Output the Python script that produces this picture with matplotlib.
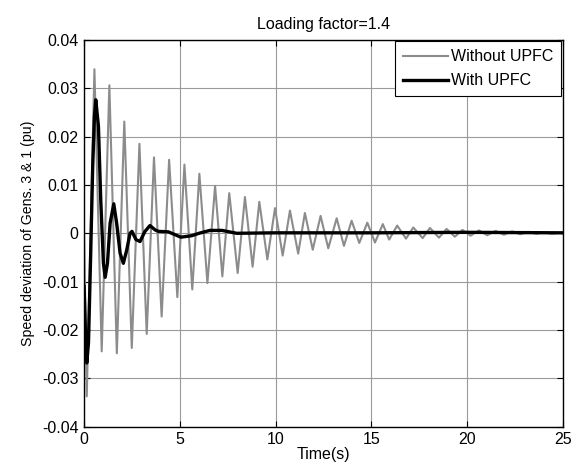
import matplotlib
matplotlib.use("Agg")
import matplotlib.pyplot as plt

plt.rcParams["font.family"] = ["Liberation Sans", "DejaVu Sans"]

# Without UPFC: extrema (time s, speed deviation pu)
t_without = [0.0, 0.14, 0.54, 0.92, 1.32, 1.71, 2.10, 2.49, 2.89, 3.27, 3.65,
             4.05, 4.44, 4.87, 5.24, 5.65, 6.02, 6.44, 6.84, 7.22, 7.58,
             8.02, 8.40, 8.80, 9.15, 9.57, 9.97, 10.37, 10.75, 11.18, 11.53,
             11.94, 12.35, 12.75, 13.19, 13.57, 13.97, 14.37, 14.79, 15.19,
             15.60, 15.93, 16.35, 16.81, 17.19, 17.68, 18.06, 18.53, 18.93,
             19.36, 19.76, 20.18, 20.62, 21.05, 21.49, 21.92, 22.35, 22.77,
             23.19, 23.62, 24.00, 24.43, 24.85, 25.0]
y_without = [0.0, -0.0337, 0.0339, -0.0244, 0.0306, -0.0248, 0.0231, -0.0237,
             0.0185, -0.0208, 0.0157, -0.0172, 0.0152, -0.0132, 0.0142,
             -0.0116, 0.0123, -0.0103, 0.0098, -0.0089, 0.0083, -0.0082,
             0.0075, -0.0069, 0.0065, -0.0054, 0.0052, -0.0046, 0.0047,
             -0.0042, 0.0042, -0.0034, 0.0036, -0.0031, 0.0031, -0.0026,
             0.0026, -0.0020, 0.0022, -0.0019, 0.0019, -0.0013, 0.0016,
             -0.0011, 0.0012, -0.0010, 0.0011, -0.0009, 0.0009, -0.0007,
             0.0007, -0.0005, 0.0006, -0.0004, 0.0005, -0.0003, 0.0004,
             -0.0002, 0.0003, -0.0001, 0.0002, -0.0001, 0.0001, 0.0]

# With UPFC
t_with = [0.0, 0.09, 0.14, 0.23, 0.35, 0.45, 0.54, 0.61, 0.75, 0.87, 1.01,
          1.10, 1.22, 1.36, 1.55, 1.70, 1.88, 2.05, 2.23, 2.40, 2.50, 2.71,
          2.92, 3.18, 3.44, 3.71, 3.88, 4.40, 4.70, 5.05, 5.62, 6.00, 6.57,
          7.20, 7.97, 10.0, 15.0, 20.0, 25.0]
y_with = [-0.0110, -0.0227, -0.0268, -0.0226, -0.0034, 0.0138, 0.0241,
          0.0276, 0.0221, 0.0069, -0.0062, -0.0091, -0.0062, 0.0021, 0.0061,
          0.0021, -0.0041, -0.0062, -0.0034, 0.0000, 0.0004, -0.0013,
          -0.0017, 0.0004, 0.0016, 0.0007, 0.0004, 0.0003, -0.0002, -0.0008,
          -0.0005, 0.0000, 0.0006, 0.0006, 0.0000, 0.0001, 0.0001, 0.0002,
          0.0001]

xticks = [0, 5, 10, 15, 20, 25]
yticks = [-0.04, -0.03, -0.02, -0.01, 0, 0.01, 0.02, 0.03, 0.04]
ytick_labels = ["-0.04", "-0.03", "-0.02", "-0.01", "0", "0.01", "0.02", "0.03", "0.04"]

fs = 11.5

fig = plt.figure(figsize=(5.72, 4.68), dpi=100)
ax = fig.add_axes([0.147, 0.088, 0.837, 0.827])

ax.plot(t_without, y_without, color="#8c8c8c", linewidth=1.5, label="Without UPFC")
ax.plot(t_with, y_with, color="black", linewidth=2.4, label="With UPFC",
        solid_joinstyle="round")

ax.set_xlim(0, 25)
ax.set_ylim(-0.04, 0.04)
ax.set_xticks(xticks)
ax.set_yticks(yticks)
ax.set_yticklabels(ytick_labels)
ax.tick_params(direction="in", length=4, width=0.8, top=True, right=True,
               labelsize=fs, pad=4)
ax.grid(True, color="#9a9a9a", linewidth=0.8)
for s in ax.spines.values():
    s.set_linewidth(1.0)

ax.set_title("Loading factor=1.4", fontsize=fs, pad=8)
ax.set_xlabel("Time(s)", fontsize=fs, labelpad=0)
ax.set_ylabel("Speed deviation of Gens. 3 & 1 (pu)", fontsize=10.2, labelpad=5)

leg = ax.legend(loc="upper right", fontsize=fs, frameon=True, fancybox=False,
                borderaxespad=0.1, handlelength=2.8, handletextpad=0.2,
                borderpad=0.5, labelspacing=0.55)
leg.get_frame().set_edgecolor("black")
leg.get_frame().set_linewidth(0.8)
leg.get_frame().set_alpha(1)

fig.savefig("out.png", dpi=100)
